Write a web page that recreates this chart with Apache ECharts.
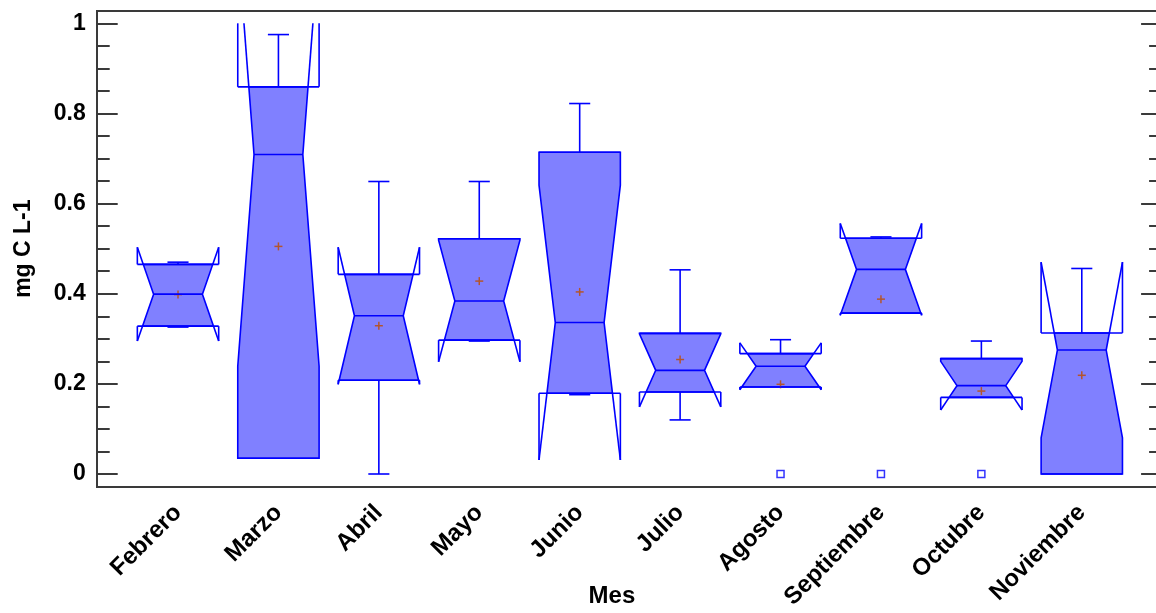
<!DOCTYPE html>
<html>
<head>
<meta charset="utf-8">
<script src="https://cdn.jsdelivr.net/npm/echarts@6/dist/echarts.min.js"></script>
<style>
  html, body { margin: 0; padding: 0; background: #fff; }
  #chart { width: 1156px; height: 613px; }
</style>
</head>
<body>
<div id="chart"></div>
<script>
// Monthly distribution of mg C L-1: notched box-and-whisker plot
const months = ['Febrero', 'Marzo', 'Abril', 'Mayo', 'Junio', 'Julio', 'Agosto', 'Septiembre', 'Octubre', 'Noviembre'];
const minVals    = [0.326, 0.035, 0.000, 0.295, 0.176, 0.120, 0.193, 0.357, 0.170, 0.000];
const q1Vals     = [0.328, 0.035, 0.208, 0.297, 0.179, 0.182, 0.193, 0.357, 0.170, 0.000];
const medianVals = [0.399, 0.709, 0.351, 0.384, 0.336, 0.230, 0.239, 0.454, 0.196, 0.275];
const q3Vals     = [0.465, 0.859, 0.443, 0.522, 0.714, 0.312, 0.267, 0.523, 0.256, 0.313];
const maxVals    = [0.470, 0.975, 0.649, 0.649, 0.822, 0.453, 0.298, 0.526, 0.295, 0.456];
const meanVals   = [0.398, 0.505, 0.329, 0.428, 0.404, 0.254, 0.199, 0.388, 0.184, 0.219];
const notchHalf  = [0.104, 0.470, 0.152, 0.135, 0.305, 0.081, 0.052, 0.102, 0.054, 0.195];
const outlierMonths = ['Agosto', 'Septiembre', 'Octubre'];
const outlierVals   = [0, 0, 0];
const yTickMin = 0, yTickMax = 1, yTickStep = 0.2;

const BLUE = '#0000ff';
const FILL = '#8080ff';
const MEAN = '#b4552c';
const AXIS = '#3a3a3a';
const FONT = '"Liberation Sans", Arial, sans-serif';

const boxData = months.map((m, i) => [i, minVals[i], q1Vals[i], medianVals[i], q3Vals[i], maxVals[i], meanVals[i], notchHalf[i]]);
const outlierData = outlierMonths.map((m, k) => [months.indexOf(m), outlierVals[k]]);

function renderBox(params, api) {
  const idx = api.value(0);
  const vMin = api.value(1), q1 = api.value(2), med = api.value(3), q3 = api.value(4);
  const vMax = api.value(5), mean = api.value(6), nh = api.value(7);
  const band = api.size([1, 0])[0];
  const hw = band * 0.405;      // half box width
  const hm = hw * 0.6;          // half width at the notch waist
  const cap = band * 0.105;     // half whisker cap width
  const X = api.coord([idx, 0])[0];
  const Y = v => api.coord([idx, v])[1];
  const w = v => {
    const d = Math.abs(v - med);
    return d >= nh ? hw : hm + (hw - hm) * d / nh;
  };
  const nLo = Math.max(med - nh, yTickMin);
  const nHi = Math.min(med + nh, yTickMax);

  // filled notched body between the quartiles
  const vs = [q1];
  if (med - nh > q1) vs.push(med - nh);
  vs.push(med);
  if (med + nh < q3) vs.push(med + nh);
  vs.push(q3);
  const pts = vs.map(v => [X - w(v), Y(v)]).concat(vs.slice().reverse().map(v => [X + w(v), Y(v)]));

  const lineStyle = { stroke: BLUE, lineWidth: 1.6, fill: null };
  const seg = (x1, y1, x2, y2) => ({ type: 'line', shape: { x1, y1, x2, y2 }, style: lineStyle });
  const children = [
    { type: 'polygon', shape: { points: pts }, style: { fill: FILL, stroke: BLUE, lineWidth: 1.6 } }
  ];

  // mean marker
  const mx = X, my = Y(mean), r = 4;
  children.push({ type: 'line', shape: { x1: mx - r, y1: my, x2: mx + r, y2: my }, style: { stroke: MEAN, lineWidth: 1.5 } });
  children.push({ type: 'line', shape: { x1: mx, y1: my - r, x2: mx, y2: my + r }, style: { stroke: MEAN, lineWidth: 1.5 } });

  // quartile and median lines
  children.push(seg(X - hw, Y(q3), X + hw, Y(q3)));
  children.push(seg(X - hw, Y(q1), X + hw, Y(q1)));
  children.push(seg(X - hm, Y(med), X + hm, Y(med)));

  // notch flaps extending past the quartiles
  if (med + nh > q3) {
    [-1, 1].forEach(s => {
      children.push(seg(X + s * hw, Y(q3), X + s * hw, Y(nHi)));
      children.push(seg(X + s * w(q3), Y(q3), X + s * w(nHi), Y(nHi)));
    });
  }
  if (med - nh < q1) {
    [-1, 1].forEach(s => {
      children.push(seg(X + s * hw, Y(q1), X + s * hw, Y(nLo)));
      children.push(seg(X + s * w(q1), Y(q1), X + s * w(nLo), Y(nLo)));
    });
  }

  // whiskers
  if (vMax > q3) {
    children.push(seg(X, Y(q3), X, Y(vMax)));
    children.push(seg(X - cap, Y(vMax), X + cap, Y(vMax)));
  }
  if (vMin < q1) {
    children.push(seg(X, Y(q1), X, Y(vMin)));
    children.push(seg(X - cap, Y(vMin), X + cap, Y(vMin)));
  }
  return { type: 'group', children };
}

const chart = echarts.init(document.getElementById('chart'), null, { renderer: 'canvas' });
const labelStyle = { color: '#000', fontFamily: FONT, fontWeight: 'bold', fontSize: 23 };

chart.setOption({
  animation: false,
  backgroundColor: '#fff',
  grid: [
    // outer frame
    { left: 97, top: 11, width: 1064, height: 476, show: true, borderColor: AXIS, borderWidth: 2,
      backgroundColor: 'transparent', containLabel: false, outerBoundsMode: 'none' },
    // data area
    { left: 127.8, top: 23.3, width: 1004.2, height: 450.7, containLabel: false, outerBoundsMode: 'none' }
  ],
  xAxis: [
    { gridIndex: 0, type: 'value', show: false, min: 0, max: 1 },
    {
      gridIndex: 1, type: 'category', data: months, boundaryGap: true, offset: 13,
      axisLine: { show: false }, axisTick: { show: false }, splitLine: { show: false },
      axisLabel: Object.assign({ rotate: 45, margin: 22, interval: 0 }, labelStyle, { fontSize: 24 }),
      name: 'Mes', nameLocation: 'middle', nameGap: 97, nameMoveOverlap: false,
      nameTextStyle: { color: '#000', fontFamily: FONT, fontWeight: 'bold', fontSize: 24, padding: [0, 36, 0, 0] }
    }
  ],
  yAxis: [
    { gridIndex: 0, type: 'value', show: false, min: 0, max: 1 },
    {
      gridIndex: 1, type: 'value', position: 'left', offset: 30.1,
      min: yTickMin, max: yTickMax, interval: yTickStep,
      axisLine: { show: false },
      axisTick: { show: true, inside: true, length: 20, lineStyle: { color: AXIS, width: 2 } },
      minorTick: { show: true, splitNumber: 4, length: 12, lineStyle: { color: AXIS, width: 2 } },
      splitLine: { show: false }, minorSplitLine: { show: false },
      axisLabel: Object.assign({ margin: 12 }, labelStyle),
      name: 'mg C L-1', nameLocation: 'middle', nameGap: 63, nameRotate: 90, nameMoveOverlap: false,
      nameTextStyle: { color: '#000', fontFamily: FONT, fontWeight: 'bold', fontSize: 23 }
    },
    {
      gridIndex: 1, type: 'value', position: 'right', offset: 29.1,
      min: yTickMin, max: yTickMax, interval: yTickStep,
      axisLine: { show: false },
      axisTick: { show: true, inside: true, length: 20, lineStyle: { color: AXIS, width: 2 } },
      minorTick: { show: true, splitNumber: 4, length: 12, lineStyle: { color: AXIS, width: 2 } },
      splitLine: { show: false }, minorSplitLine: { show: false },
      axisLabel: { show: false }
    }
  ],
  series: [
    {
      type: 'custom', name: 'mg C L-1', xAxisIndex: 1, yAxisIndex: 1,
      renderItem: renderBox, data: boxData, clip: false
    },
    {
      type: 'scatter', name: 'atípicos', xAxisIndex: 1, yAxisIndex: 1,
      symbol: 'rect', symbolSize: 7, data: outlierData, clip: false,
      itemStyle: { color: '#fff', borderColor: BLUE, borderWidth: 1.5 }
    }
  ]
});
</script>
</body>
</html>
